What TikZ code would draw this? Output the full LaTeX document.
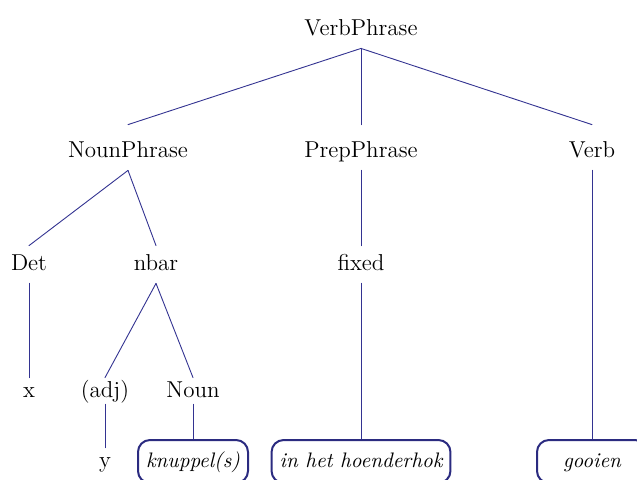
\documentclass[tikz,border=0pt]{standalone}
\usepackage{tikz}
\definecolor{qqqqbb}{rgb}{0.2,0.2,0.57}
\definecolor{wwwwaa}{rgb}{0.17,0.17,0.5}

\begin{document}
\begin{tikzpicture}[line cap=round,line join=round,x=0.5pt,y=-0.5pt,
  cat/.style={anchor=base,inner sep=4pt,text height=8pt,text depth=2.5pt,font=\fontsize{11.5}{13}\selectfont},
  tall/.style={text height=12pt},
  low/.style={text height=6pt,text depth=0pt,inner sep=3.5pt},
  word/.style={anchor=base,draw=wwwwaa,line width=1pt,rounded corners=6pt,inner xsep=4pt,inner ysep=5.5pt,
    text height=8pt,text depth=2.5pt,minimum width=55pt,font=\fontsize{10.5}{12}\selectfont\itshape},
  edge/.style={color=qqqqbb,line width=0.45pt}]

\useasboundingbox (0,0) rectangle (637,479);
\clip (0,0) rectangle (637,479);

\node[cat] (vp) at (361,35) {VerbPhrase};
\node[cat,tall] (np) at (128,157) {NounPhrase};
\node[cat,tall] (pp) at (361,157) {PrepPhrase};
\node[cat,tall] (verb) at (592,157) {Verb};
\node[cat] (det) at (29,270) {Det};
\node[cat] (nbar) at (156,270) {nbar};
\node[cat] (fixed) at (361,270) {fixed};
\node[cat,low] (x) at (29,397) {x};
\node[cat,low] (adj) at (105,397) {(adj)};
\node[cat,low] (noun) at (193,397) {Noun};
\node[cat,low] (y) at (105,467) {y};
\node[word] (knuppel) at (193,467) {knuppel(s)};
\node[word] (hok) at (361,467) {in het hoenderhok};
\node[word] (gooien) at (592,467) {gooien};

\draw[edge] (vp.south) -- (np.north);
\draw[edge] (vp.south) -- (pp.north);
\draw[edge] (vp.south) -- (verb.north);
\draw[edge] (np.south) -- (det.north);
\draw[edge] (np.south) -- (nbar.north);
\draw[edge] (pp.south) -- (fixed.north);
\draw[edge] (verb.south) -- (gooien.north);
\draw[edge] (det.south) -- (x.north);
\draw[edge] (nbar.south) -- (adj.north);
\draw[edge] (nbar.south) -- (noun.north);
\draw[edge] (fixed.south) -- (hok.north);
\draw[edge] (adj.south) -- (y.north);
\draw[edge] (noun.south) -- (knuppel.north);

\end{tikzpicture}
\end{document}
